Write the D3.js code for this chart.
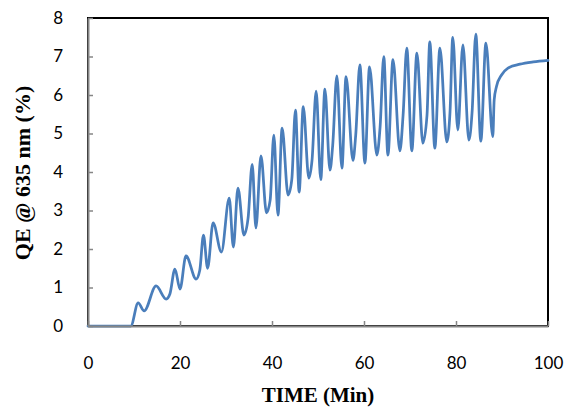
<!DOCTYPE html>
<html>
<head>
<meta charset="utf-8">
<script src="https://cdn.jsdelivr.net/npm/d3@7"></script>
<style>
  html, body { margin: 0; padding: 0; background: #ffffff; }
  svg { display: block; }
</style>
</head>
<body>
<svg id="chart" width="565" height="407"></svg>
<script>
// ---- data ----
const timeMin = [
  0, 9.3, 10.9, 12.2, 14.8, 17.0, 17.8, 18.9, 20.0, 21.3,
  23.5, 24.3, 25.1, 26.0, 27.2, 29.0, 30.7, 31.6, 32.6, 33.9,
  34.8, 35.7, 36.5, 37.6, 38.8, 39.6, 40.4, 41.3, 42.2, 43.5,
  44.3, 45.1, 45.9, 46.8, 48.0, 48.7, 49.6, 50.6, 51.5, 52.6,
  53.2, 54.1, 55.2, 56.1, 57.6, 58.2, 59.1, 60.2, 61.2, 62.8,
  63.5, 64.3, 65.2, 66.3, 67.8, 68.5, 69.3, 70.4, 71.5, 72.8,
  73.7, 74.3, 75.4, 76.5, 78.0, 78.7, 79.3, 80.4, 81.5, 82.8,
  83.5, 84.3, 85.4, 86.5, 88.0, 88.3, 88.8, 89.9, 91.3, 93.9,
  96.8, 100
];
const qePercent = [
  0, 0, 0.60, 0.39, 1.04, 0.70, 0.83, 1.48, 0.96, 1.82,
  1.22, 1.45, 2.36, 1.50, 2.68, 1.92, 3.32, 2.05, 3.58, 2.36,
  2.80, 4.20, 2.55, 4.42, 2.94, 3.27, 4.96, 2.88, 5.14, 3.40,
  3.80, 5.61, 3.48, 5.70, 3.84, 4.30, 6.10, 3.80, 6.15, 4.05,
  4.70, 6.50, 4.10, 6.48, 4.30, 4.96, 6.78, 4.23, 6.73, 4.44,
  5.17, 7.00, 4.44, 6.92, 4.55, 5.48, 7.22, 4.55, 7.09, 4.75,
  5.48, 7.38, 4.62, 7.22, 4.78, 5.56, 7.50, 5.09, 7.30, 4.83,
  5.56, 7.58, 4.80, 7.35, 4.92, 5.87, 6.22, 6.52, 6.70, 6.80,
  6.86, 6.90
];
const xTicks = [0, 20, 40, 60, 80, 100];
const yTicks = [0, 1, 2, 3, 4, 5, 6, 7, 8];
const xTitle = "TIME (Min)";
const yTitle = "QE @ 635 nm (%)";

// ---- layout ----
const svg = d3.select("#chart");
const mLeft = 88, mRight = 548, mTop = 18, mBottom = 326;

const x = d3.scaleLinear().domain([0, 100]).range([mLeft, mRight]);
const y = d3.scaleLinear().domain([0, 8]).range([mBottom, mTop]);

const axisGray = "#868686";
const tickFont = "Lato, 'Open Sans', sans-serif";

// plot area border (top/right black)
svg.append("rect")
  .attr("x", mLeft).attr("y", mTop)
  .attr("width", mRight - mLeft).attr("height", mBottom - mTop)
  .attr("fill", "none").attr("stroke", "#000").attr("stroke-width", 2);

// series line
const pts = timeMin.map((t, i) => [t, qePercent[i]]);
svg.append("path")
  .datum(pts)
  .attr("fill", "none")
  .attr("stroke", "#4a7ebb")
  .attr("stroke-width", 2.75)
  .attr("stroke-linejoin", "round")
  .attr("stroke-linecap", "round")
  .attr("d", d3.line().x(d => x(d[0])).y(d => y(d[1])).curve(d3.curveMonotoneX));

// y axis
const gy = svg.append("g")
  .attr("transform", `translate(${mLeft},0)`)
  .call(d3.axisLeft(y).tickValues(yTicks).tickFormat(d3.format("d"))
    .tickSizeInner(-5).tickSizeOuter(0).tickPadding(25));
// x axis
const gx = svg.append("g")
  .attr("transform", `translate(0,${mBottom})`)
  .call(d3.axisBottom(x).tickValues(xTicks).tickFormat(d3.format("d"))
    .tickSizeInner(-5).tickSizeOuter(0).tickPadding(31));

[gx, gy].forEach(g => {
  g.select(".domain").attr("stroke", axisGray).attr("stroke-width", 2);
  g.selectAll(".tick line").attr("stroke", axisGray).attr("stroke-width", 1.5);
  g.selectAll(".tick text")
    .attr("fill", "#000")
    .style("font-family", tickFont)
    .style("font-size", "17px");
});

// axis titles
svg.append("text")
  .attr("x", 318).attr("y", 402)
  .attr("text-anchor", "middle")
  .style("font-family", "'Liberation Serif', 'Times New Roman', serif")
  .style("font-weight", "bold")
  .style("font-size", "21px")
  .text(xTitle);

svg.append("text")
  .attr("transform", "translate(30,173) rotate(-90)")
  .attr("text-anchor", "middle")
  .style("font-family", "'Liberation Serif', 'Times New Roman', serif")
  .style("font-weight", "bold")
  .style("font-size", "22px")
  .text(yTitle);
</script>
</body>
</html>
